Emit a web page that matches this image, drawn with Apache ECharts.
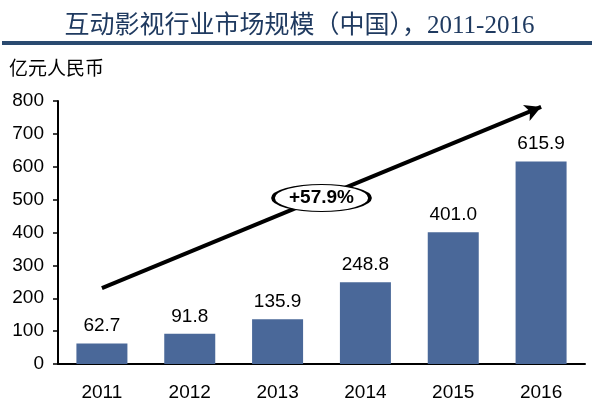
<!DOCTYPE html>
<html>
<head>
<meta charset="utf-8">
<script src="https://cdn.jsdelivr.net/npm/echarts@6/dist/echarts.min.js"></script>
<style>
  html, body { margin: 0; padding: 0; background: #fff; }
  #main { width: 599px; height: 408px; }
</style>
</head>
<body>
<div id="main"></div>
<script>
// 数据
var years = ['2011', '2012', '2013', '2014', '2015', '2016'];
var marketSize = [62.7, 91.8, 135.9, 248.8, 401.0, 615.9];
var cagrText = '+57.9%';
// 箭头起止点 (x 为类目序号, y 为数值)
var arrowFrom = [0, 231];
var arrowTo = [5, 782];
var cagrPos = [2.5, 505];

var myChart = echarts.init(document.getElementById('main'));

var option = {
  animation: false,
  title: {
    text: '互动影视行业市场规模（中国），2011-2016',
    left: 'center',
    top: 9,
    textStyle: {
      fontFamily: '"Liberation Serif", "Noto Sans CJK SC", serif',
      fontSize: 25,
      fontWeight: 'normal',
      color: '#1F3A60'
    }
  },
  graphic: [{
    type: 'rect',
    shape: { x: 2, y: 41, width: 590, height: 4 },
    style: { fill: '#2A4A70' }
  }, {
    type: 'text',
    left: 9,
    top: 58,
    style: {
      text: '亿元人民币',
      font: '19px "Noto Sans CJK SC", sans-serif',
      fill: '#000'
    }
  }],
  grid: { left: 58, right: 14, top: 101, bottom: 44 },
  xAxis: [{
    type: 'category',
    data: years,
    axisLine: { onZero: false, lineStyle: { color: '#000', width: 2 } },
    axisTick: { show: false },
    axisLabel: {
      margin: 19,
      fontSize: 19,
      color: '#000',
      fontFamily: '"Liberation Sans", Arial, sans-serif'
    }
  }, {
    type: 'value',
    min: -0.5,
    max: 5.5,
    show: false
  }],
  yAxis: {
    type: 'value',
    min: 0,
    max: 800,
    interval: 100,
    splitLine: { show: false },
    axisLine: { show: true, onZero: false, lineStyle: { color: '#000', width: 2 } },
    axisTick: { show: true, length: 5, lineStyle: { color: '#000', width: 1.5 } },
    axisLabel: {
      margin: 14,
      fontSize: 19,
      color: '#000',
      fontFamily: '"Liberation Sans", Arial, sans-serif'
    }
  },
  series: [{
    name: '市场规模',
    type: 'bar',
    data: marketSize,
    barWidth: 51,
    itemStyle: { color: '#4A6899' },
    label: {
      show: true,
      position: 'top',
      distance: 8,
      fontSize: 19,
      color: '#000',
      fontFamily: '"Liberation Sans", Arial, sans-serif',
      formatter: function (p) { return p.value.toFixed(1); }
    }
  }, {
    type: 'line',
    xAxisIndex: 1,
    data: [],
    z: 5,
    markLine: {
      silent: true,
      symbol: ['none', 'arrow'],
      symbolSize: [13, 16],
      lineStyle: { color: '#000', width: 4, type: 'solid' },
      label: { show: false },
      data: [[{ coord: arrowFrom }, { coord: arrowTo }]]
    }
  }, {
    type: 'line',
    xAxisIndex: 1,
    data: [],
    z: 10,
    markPoint: {
      silent: true,
      symbol: 'circle',
      symbolSize: [97, 27],
      itemStyle: { color: '#fff', borderColor: '#000', borderWidth: 2 },
      label: {
        show: true,
        position: 'inside',
        formatter: cagrText,
        fontSize: 19,
        fontWeight: 'bold',
        color: '#000',
        fontFamily: '"Liberation Sans", Arial, sans-serif'
      },
      data: [{ coord: cagrPos }]
    }
  }]
};

myChart.setOption(option);
</script>
</body>
</html>
